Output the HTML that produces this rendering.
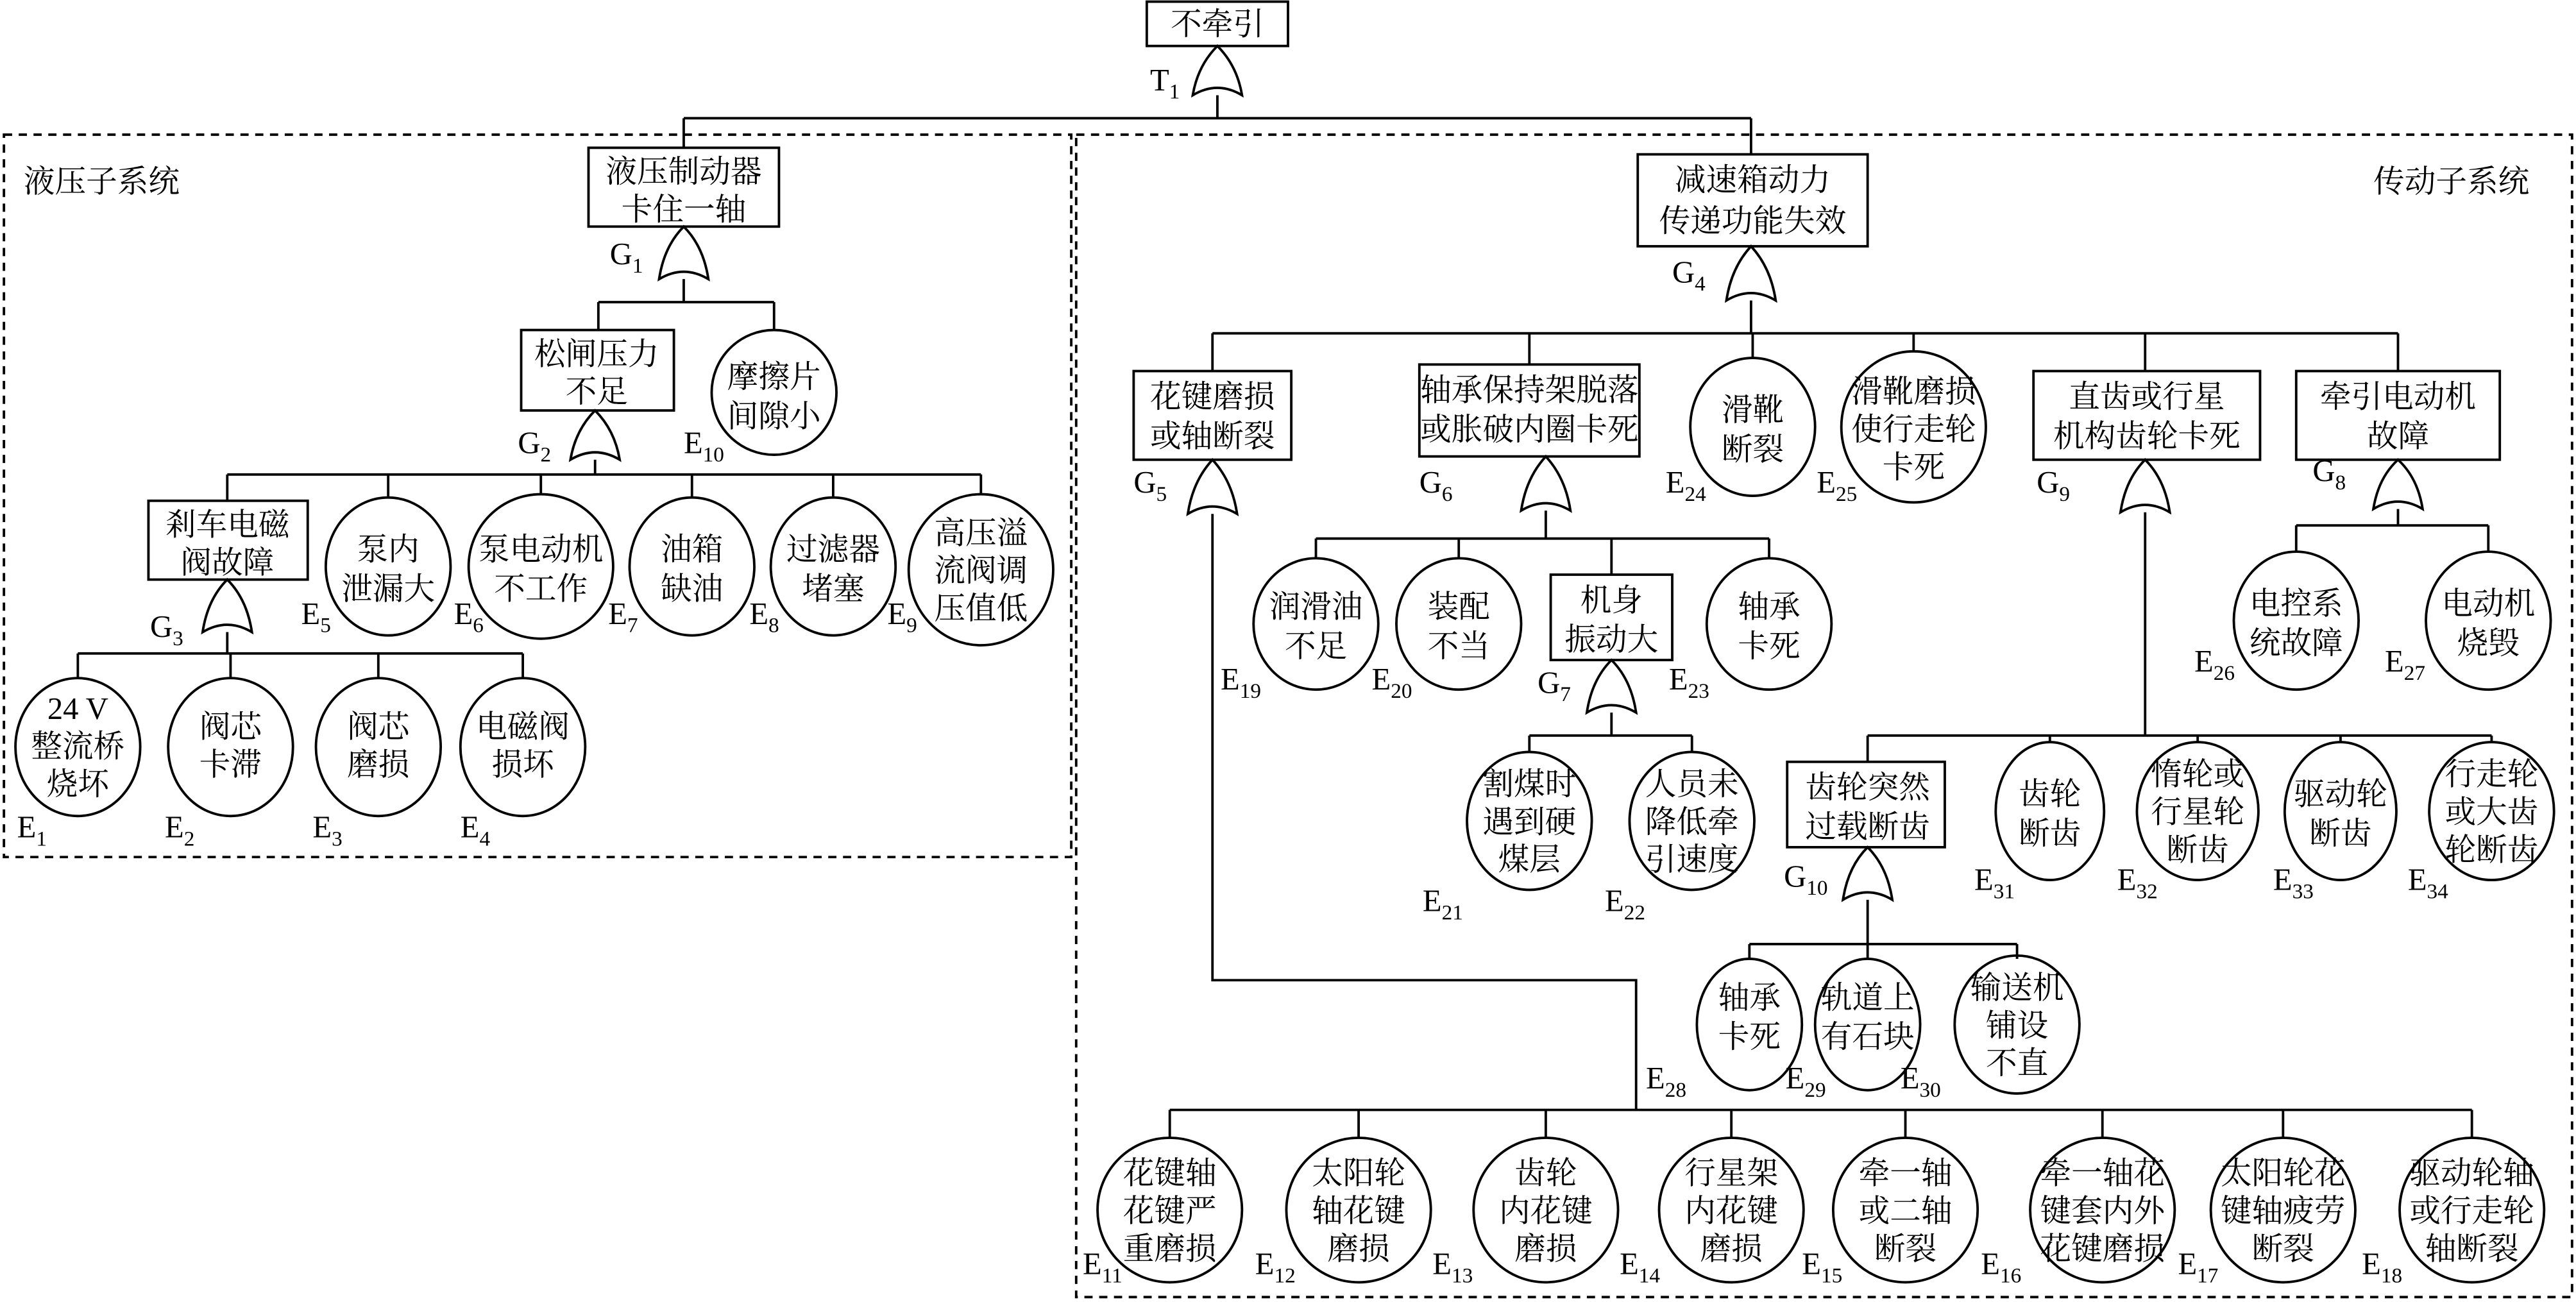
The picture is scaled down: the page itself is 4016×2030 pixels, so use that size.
<!DOCTYPE html>
<html><head><meta charset="utf-8"><style>
html,body{margin:0;padding:0;background:#fff;}
svg{display:block;}
text{font-family:"Liberation Serif","Noto Serif CJK SC",serif;font-size:19px;fill:#000;}
.c{text-anchor:middle;}
.s{font-size:13px;}
</style></head><body>
<svg width="4016" height="2030" viewBox="0 0 1568 793" xmlns="http://www.w3.org/2000/svg">
<g fill="none" stroke="#000" stroke-width="1.5">
<!-- dashed subsystem boxes -->
<rect x="2" y="82" width="650" height="440" stroke-dasharray="5,4"/>
<rect x="655" y="82" width="911" height="708" stroke-dasharray="5,4"/>
<!-- top -->
<rect x="698" y="1" width="86" height="27"/>
<path d="M741,28 Q753,40 756,58 Q741,49 726,58 Q729,40 741,28 Z"/>
<path d="M741,58 V72 M416,72 H1066 M416,72 V90 M1066,72 V94"/>
<!-- left tree -->
<rect x="358" y="90" width="116" height="48"/>
<path d="M416,138 Q428,150 431,170 Q416,161 401,170 Q404,150 416,138 Z"/>
<path d="M416,170 V184 M364,184 H471 M364,184 V201 M471,184 V201"/>
<rect x="317" y="201" width="93" height="49"/>
<ellipse cx="471" cy="239" rx="38" ry="38"/>
<path d="M362,250 Q374,262 377,280 Q362,271 347,280 Q350,262 362,250 Z"/>
<path d="M362,280 V289 M138,289 H597 M138,289 V305 M236,289 V303 M329,289 V301 M421,289 V303 M507,289 V303 M597,289 V301"/>
<rect x="90" y="305" width="97" height="48"/>
<ellipse cx="236" cy="345" rx="38" ry="42"/>
<ellipse cx="329" cy="345" rx="44" ry="44"/>
<ellipse cx="421" cy="345" rx="38" ry="42"/>
<ellipse cx="507" cy="345" rx="38" ry="42"/>
<ellipse cx="597" cy="347" rx="44" ry="46"/>
<path d="M138,353 Q150,365 153,385 Q138,376 123,385 Q126,365 138,353 Z"/>
<path d="M138,385 V398 M47,398 H318 M47,398 V413 M140,398 V413 M230,398 V413 M318,398 V413"/>
<ellipse cx="47" cy="455" rx="38" ry="42"/>
<ellipse cx="140" cy="455" rx="38" ry="42"/>
<ellipse cx="230" cy="455" rx="38" ry="42"/>
<ellipse cx="318" cy="455" rx="38" ry="42"/>
<!-- right tree -->
<rect x="997" y="94" width="140" height="56"/>
<path d="M1066,150 Q1078,163 1081,183 Q1066,174 1051,183 Q1054,163 1066,150 Z"/>
<path d="M1066,183 V203 M738,203 H1460 M738,203 V226 M931,203 V222 M1067,203 V218 M1165,203 V214 M1306,203 V226 M1460,203 V226"/>
<rect x="690" y="226" width="96" height="54"/>
<rect x="864" y="222" width="134" height="56"/>
<ellipse cx="1067" cy="260" rx="38" ry="42"/>
<ellipse cx="1165" cy="260" rx="44" ry="46"/>
<rect x="1238" y="226" width="138" height="54"/>
<rect x="1398" y="226" width="124" height="54"/>
<!-- G5 -->
<path d="M738,280 Q750,293 753,313 Q738,304 723,313 Q726,293 738,280 Z"/>
<path d="M738,313 V597 H996 V676 M712,676 H1505 M712,676 V693 M827,676 V693 M941,676 V693 M1054,676 V693 M1160,676 V693 M1280,676 V693 M1390,676 V693 M1505,676 V693"/>
<ellipse cx="712" cy="737" rx="44" ry="44"/>
<ellipse cx="827" cy="737" rx="44" ry="44"/>
<ellipse cx="941" cy="737" rx="44" ry="44"/>
<ellipse cx="1054" cy="737" rx="44" ry="44"/>
<ellipse cx="1160" cy="737" rx="44" ry="44"/>
<ellipse cx="1280" cy="737" rx="44" ry="44"/>
<ellipse cx="1390" cy="737" rx="44" ry="44"/>
<ellipse cx="1505" cy="737" rx="44" ry="44"/>
<!-- G6 -->
<path d="M941,278 Q953,291 956,311 Q941,302 926,311 Q929,291 941,278 Z"/>
<path d="M941,311 V328 M801,328 H1077 M801,328 V340 M888,328 V340 M981,328 V350 M1077,328 V340"/>
<ellipse cx="801" cy="380" rx="38" ry="40"/>
<ellipse cx="888" cy="380" rx="38" ry="40"/>
<rect x="944" y="350" width="74" height="52"/>
<ellipse cx="1077" cy="380" rx="38" ry="40"/>
<path d="M981,402 Q993,414 996,434 Q981,425 966,434 Q969,414 981,402 Z"/>
<path d="M981,434 V448 M931,448 H1030 M931,448 V458 M1030,448 V458"/>
<ellipse cx="931" cy="500" rx="38" ry="42"/>
<ellipse cx="1030" cy="500" rx="38" ry="42"/>
<!-- G9 -->
<path d="M1306,280 Q1318,292 1321,312 Q1306,303 1291,312 Q1294,292 1306,280 Z"/>
<path d="M1306,312 V448 M1137,448 H1517 M1137,448 V464 M1248,448 V452 M1338,448 V452 M1425,448 V452 M1517,448 V452"/>
<rect x="1088" y="464" width="96" height="52"/>
<ellipse cx="1248" cy="494" rx="33" ry="42"/>
<ellipse cx="1338" cy="494" rx="37" ry="42"/>
<ellipse cx="1425" cy="494" rx="34" ry="42"/>
<ellipse cx="1517" cy="494" rx="38" ry="42"/>
<path d="M1137,516 Q1149,528 1152,548 Q1137,539 1122,548 Q1125,528 1137,516 Z"/>
<path d="M1137,548 V575 M1065,575 H1228 M1065,575 V584 M1137,575 V584 M1228,575 V584"/>
<ellipse cx="1065" cy="624" rx="32" ry="40"/>
<ellipse cx="1137" cy="624" rx="32" ry="40"/>
<ellipse cx="1228" cy="624" rx="38" ry="42"/>
<!-- G8 -->
<path d="M1460,280 Q1472,291 1475,310 Q1460,301 1445,310 Q1448,291 1460,280 Z"/>
<path d="M1460,310 V320 M1398,320 H1515 M1398,320 V336 M1515,320 V336"/>
<ellipse cx="1398" cy="378" rx="38" ry="42"/>
<ellipse cx="1515" cy="378" rx="38" ry="42"/>
</g>

<!-- texts -->
<g>
<text x="741" y="21" class="c">不牵引</text>
<text x="700" y="55">T<tspan dy="5" class="s">1</tspan></text>
<text x="14" y="117">液压子系统</text>
<text x="1540" y="117" text-anchor="end">传动子系统</text>

<text x="416" y="111" class="c">液压制动器</text><text x="416" y="134" class="c">卡住一轴</text>
<text x="371" y="161">G<tspan dy="5" class="s">1</tspan></text>
<text x="363" y="222" class="c">松闸压力</text><text x="363" y="245" class="c">不足</text>
<text x="471" y="236" class="c">摩擦片</text><text x="471" y="260" class="c">间隙小</text>
<text x="315" y="276">G<tspan dy="5" class="s">2</tspan></text>
<text x="416" y="276">E<tspan dy="5" class="s">10</tspan></text>
<text x="138" y="326" class="c">剎车电磁</text><text x="138" y="349" class="c">阀故障</text>
<text x="236" y="341" class="c">泵内</text><text x="236" y="365" class="c">泄漏大</text>
<text x="329" y="341" class="c">泵电动机</text><text x="329" y="365" class="c">不工作</text>
<text x="421" y="341" class="c">油箱</text><text x="421" y="365" class="c">缺油</text>
<text x="507" y="341" class="c">过滤器</text><text x="507" y="365" class="c">堵塞</text>
<text x="597" y="331" class="c">高压溢</text><text x="597" y="354" class="c">流阀调</text><text x="597" y="377" class="c">压值低</text>
<text x="183" y="380">E<tspan dy="5" class="s">5</tspan></text>
<text x="276" y="380">E<tspan dy="5" class="s">6</tspan></text>
<text x="370" y="380">E<tspan dy="5" class="s">7</tspan></text>
<text x="456" y="380">E<tspan dy="5" class="s">8</tspan></text>
<text x="540" y="380">E<tspan dy="5" class="s">9</tspan></text>
<text x="91" y="388">G<tspan dy="5" class="s">3</tspan></text>
<text x="47" y="438" class="c">24 V</text><text x="47" y="461" class="c">整流桥</text><text x="47" y="484" class="c">烧坏</text>
<text x="140" y="449" class="c">阀芯</text><text x="140" y="472" class="c">卡滞</text>
<text x="230" y="449" class="c">阀芯</text><text x="230" y="472" class="c">磨损</text>
<text x="318" y="449" class="c">电磁阀</text><text x="318" y="472" class="c">损坏</text>
<text x="10" y="510">E<tspan dy="5" class="s">1</tspan></text>
<text x="100" y="510">E<tspan dy="5" class="s">2</tspan></text>
<text x="190" y="510">E<tspan dy="5" class="s">3</tspan></text>
<text x="280" y="510">E<tspan dy="5" class="s">4</tspan></text>

<text x="1067" y="116" class="c">减速箱动力</text><text x="1067" y="141" class="c">传递功能失效</text>
<text x="1018" y="172">G<tspan dy="5" class="s">4</tspan></text>
<text x="738" y="248" class="c">花键磨损</text><text x="738" y="272" class="c">或轴断裂</text>
<text x="931" y="244" class="c">轴承保持架脱落</text><text x="931" y="268" class="c">或胀破内圈卡死</text>
<text x="1067" y="256" class="c">滑靴</text><text x="1067" y="280" class="c">断裂</text>
<text x="1165" y="245" class="c">滑靴磨损</text><text x="1165" y="268" class="c">使行走轮</text><text x="1165" y="291" class="c">卡死</text>
<text x="1307" y="248" class="c">直齿或行星</text><text x="1307" y="272" class="c">机构齿轮卡死</text>
<text x="1460" y="248" class="c">牵引电动机</text><text x="1460" y="272" class="c">故障</text>
<text x="690" y="300">G<tspan dy="5" class="s">5</tspan></text>
<text x="864" y="300">G<tspan dy="5" class="s">6</tspan></text>
<text x="1014" y="300">E<tspan dy="5" class="s">24</tspan></text>
<text x="1106" y="300">E<tspan dy="5" class="s">25</tspan></text>
<text x="1240" y="300">G<tspan dy="5" class="s">9</tspan></text>
<text x="1408" y="293">G<tspan dy="5" class="s">8</tspan></text>

<text x="801" y="376" class="c">润滑油</text><text x="801" y="400" class="c">不足</text>
<text x="888" y="376" class="c">装配</text><text x="888" y="400" class="c">不当</text>
<text x="981" y="372" class="c">机身</text><text x="981" y="396" class="c">振动大</text>
<text x="1077" y="376" class="c">轴承</text><text x="1077" y="400" class="c">卡死</text>
<text x="743" y="420">E<tspan dy="5" class="s">19</tspan></text>
<text x="835" y="420">E<tspan dy="5" class="s">20</tspan></text>
<text x="936" y="422">G<tspan dy="5" class="s">7</tspan></text>
<text x="1016" y="420">E<tspan dy="5" class="s">23</tspan></text>
<text x="931" y="484" class="c">割煤时</text><text x="931" y="507" class="c">遇到硬</text><text x="931" y="530" class="c">煤层</text>
<text x="1030" y="484" class="c">人员未</text><text x="1030" y="507" class="c">降低牵</text><text x="1030" y="530" class="c">引速度</text>
<text x="866" y="555">E<tspan dy="5" class="s">21</tspan></text>
<text x="977" y="555">E<tspan dy="5" class="s">22</tspan></text>

<text x="1137" y="486" class="c">齿轮突然</text><text x="1137" y="510" class="c">过载断齿</text>
<text x="1248" y="490" class="c">齿轮</text><text x="1248" y="514" class="c">断齿</text>
<text x="1338" y="478" class="c">惰轮或</text><text x="1338" y="501" class="c">行星轮</text><text x="1338" y="524" class="c">断齿</text>
<text x="1425" y="490" class="c">驱动轮</text><text x="1425" y="514" class="c">断齿</text>
<text x="1517" y="478" class="c">行走轮</text><text x="1517" y="501" class="c">或大齿</text><text x="1517" y="524" class="c">轮断齿</text>
<text x="1202" y="542">E<tspan dy="5" class="s">31</tspan></text>
<text x="1289" y="542">E<tspan dy="5" class="s">32</tspan></text>
<text x="1384" y="542">E<tspan dy="5" class="s">33</tspan></text>
<text x="1466" y="542">E<tspan dy="5" class="s">34</tspan></text>
<text x="1086" y="540">G<tspan dy="5" class="s">10</tspan></text>
<text x="1065" y="614" class="c">轴承</text><text x="1065" y="638" class="c">卡死</text>
<text x="1137" y="614" class="c">轨道上</text><text x="1137" y="638" class="c">有石块</text>
<text x="1228" y="608" class="c">输送机</text><text x="1228" y="631" class="c">铺设</text><text x="1228" y="654" class="c">不直</text>
<text x="1002" y="663">E<tspan dy="5" class="s">28</tspan></text>
<text x="1087" y="663">E<tspan dy="5" class="s">29</tspan></text>
<text x="1157" y="663">E<tspan dy="5" class="s">30</tspan></text>

<text x="1398" y="374" class="c">电控系</text><text x="1398" y="398" class="c">统故障</text>
<text x="1515" y="374" class="c">电动机</text><text x="1515" y="398" class="c">烧毁</text>
<text x="1336" y="409">E<tspan dy="5" class="s">26</tspan></text>
<text x="1452" y="409">E<tspan dy="5" class="s">27</tspan></text>

<text x="712" y="721" class="c">花键轴</text><text x="712" y="744" class="c">花键严</text><text x="712" y="767" class="c">重磨损</text>
<text x="827" y="721" class="c">太阳轮</text><text x="827" y="744" class="c">轴花键</text><text x="827" y="767" class="c">磨损</text>
<text x="941" y="721" class="c">齿轮</text><text x="941" y="744" class="c">内花键</text><text x="941" y="767" class="c">磨损</text>
<text x="1054" y="721" class="c">行星架</text><text x="1054" y="744" class="c">内花键</text><text x="1054" y="767" class="c">磨损</text>
<text x="1160" y="721" class="c">牵一轴</text><text x="1160" y="744" class="c">或二轴</text><text x="1160" y="767" class="c">断裂</text>
<text x="1280" y="721" class="c">牵一轴花</text><text x="1280" y="744" class="c">键套内外</text><text x="1280" y="767" class="c">花键磨损</text>
<text x="1390" y="721" class="c">太阳轮花</text><text x="1390" y="744" class="c">键轴疲劳</text><text x="1390" y="767" class="c">断裂</text>
<text x="1505" y="721" class="c">驱动轮轴</text><text x="1505" y="744" class="c">或行走轮</text><text x="1505" y="767" class="c">轴断裂</text>
<text x="659" y="776">E<tspan dy="5" class="s">11</tspan></text>
<text x="764" y="776">E<tspan dy="5" class="s">12</tspan></text>
<text x="872" y="776">E<tspan dy="5" class="s">13</tspan></text>
<text x="986" y="776">E<tspan dy="5" class="s">14</tspan></text>
<text x="1097" y="776">E<tspan dy="5" class="s">15</tspan></text>
<text x="1206" y="776">E<tspan dy="5" class="s">16</tspan></text>
<text x="1326" y="776">E<tspan dy="5" class="s">17</tspan></text>
<text x="1438" y="776">E<tspan dy="5" class="s">18</tspan></text>
</g>
</svg>
</body></html>
